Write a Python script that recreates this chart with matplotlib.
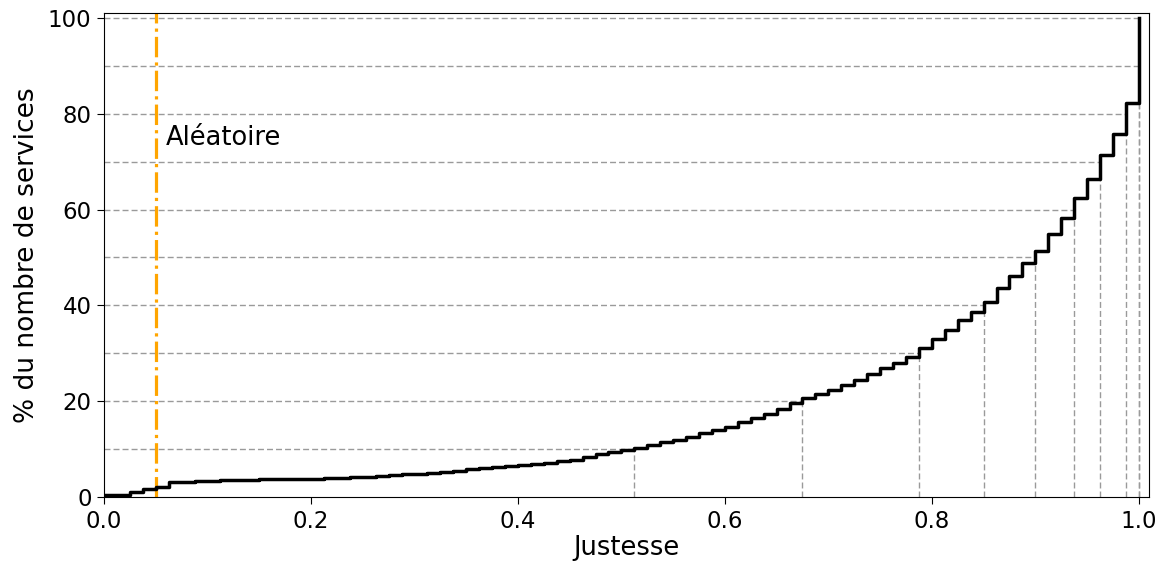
import numpy as np
import matplotlib
matplotlib.use("Agg")
import matplotlib.pyplot as plt

# justesse (k/80) and cumulative % of services with accuracy <= justesse
justesse = [0.0, 0.0125, 0.025, 0.0375, 0.05, 0.0625, 0.075, 0.0875,
            0.1, 0.1125, 0.125, 0.1375, 0.15, 0.1625, 0.175, 0.1875,
            0.2, 0.2125, 0.225, 0.2375, 0.25, 0.2625, 0.275, 0.2875,
            0.3, 0.3125, 0.325, 0.3375, 0.35, 0.3625, 0.375, 0.3875,
            0.4, 0.4125, 0.425, 0.4375, 0.45, 0.4625, 0.475, 0.4875,
            0.5, 0.5125, 0.525, 0.5375, 0.55, 0.5625, 0.575, 0.5875,
            0.6, 0.6125, 0.625, 0.6375, 0.65, 0.6625, 0.675, 0.6875,
            0.7, 0.7125, 0.725, 0.7375, 0.75, 0.7625, 0.775, 0.7875,
            0.8, 0.8125, 0.825, 0.8375, 0.85, 0.8625, 0.875, 0.8875,
            0.9, 0.9125, 0.925, 0.9375, 0.95, 0.9625, 0.975, 0.9875,
            1.0]
pct_services = [0.4, 0.5, 1.0, 1.6, 2.1, 3.1, 3.2, 3.3,
                3.4, 3.5, 3.6, 3.65, 3.7, 3.7, 3.75, 3.8,
                3.85, 3.95, 4.05, 4.15, 4.25, 4.4, 4.6, 4.8,
                4.9, 5.1, 5.3, 5.5, 5.8, 6.0, 6.2, 6.4,
                6.6, 6.9, 7.1, 7.5, 7.8, 8.4, 9.0, 9.4,
                9.8, 10.2, 10.9, 11.5, 12.0, 12.6, 13.3, 13.9,
                14.7, 15.6, 16.4, 17.4, 18.4, 19.6, 20.6, 21.4,
                22.4, 23.3, 24.5, 25.7, 27.0, 28.0, 29.3, 31.1,
                33.0, 34.9, 36.9, 38.6, 40.8, 43.7, 46.1, 48.8,
                51.3, 54.8, 58.2, 62.4, 66.4, 71.3, 75.8, 82.3,
                100.0]
seuils = [10, 20, 30, 40, 50, 60, 70, 80, 90, 100]
aleatoire = 0.05

x = np.array(justesse)
y = np.array(pct_services)

fig = plt.figure(figsize=(11.69, 5.68), dpi=100)
ax = fig.add_axes([0.089, 0.125, 0.894, 0.852])

# percentile guide lines
guide = dict(colors='#9a9a9a', linestyles=(0, (4.3, 2.2)), linewidth=1.0, zorder=1)
for q in seuils:
    xq = x[np.argmax(y >= q)]
    ax.hlines(q, 0, xq, **guide)
    ax.vlines(xq, 0, q, **guide)

ax.step(x, y, where='post', color='black', linewidth=2.5, zorder=3)

ax.axvline(aleatoire, color='orange', linestyle='-.', linewidth=2.3, zorder=2)
ax.text(aleatoire + 0.01, 75, 'Aléatoire', fontsize=18.5, va='center', ha='left')

ax.set_xlim(0, 1.01)
ax.set_ylim(0, 101)
ax.set_xticks([0.0, 0.2, 0.4, 0.6, 0.8, 1.0])
ax.set_yticks([0, 20, 40, 60, 80, 100])
ax.tick_params(labelsize=16.5, length=5, pad=4)
ax.set_xlabel('Justesse', fontsize=18.5, labelpad=2)
ax.set_ylabel('% du nombre de services', fontsize=19, labelpad=6)

fig.savefig('out.png', dpi=100)
